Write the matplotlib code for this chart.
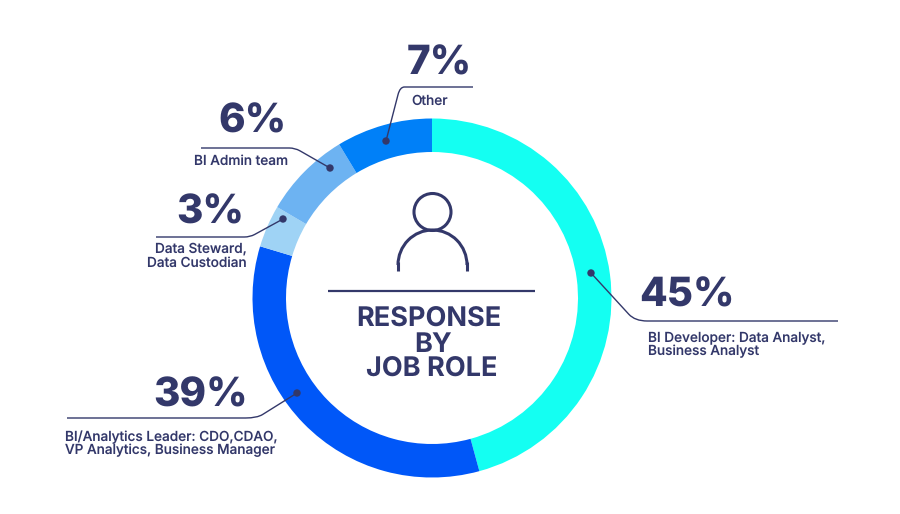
import matplotlib
matplotlib.use('Agg')
import matplotlib.pyplot as plt
from matplotlib.path import Path
from matplotlib.patches import PathPatch, Circle, Arc

# slice sizes as drawn in the picture (they differ a bit from the printed labels)
arc_shares = [45.75, 33.9, 3.8, 7.9, 8.65]
arc_colors = ['#14FFF2', '#0057F8', '#9FD3F5', '#6DB3F2', '#0080F8']
percent_labels = ['45%', '39%', '3%', '6%', '7%']
role_labels = ['BI Developer: Data Analyst,\nBusiness Analyst',
               'BI/Analytics Leader: CDO,CDAO,\nVP Analytics, Business Manager',
               'Data Steward,\nData Custodian',
               'BI Admin team',
               'Other']
title_lines = ['RESPONSE', 'BY', 'JOB ROLE']

dark = '#33386A'
plt.rcParams['font.family'] = ['Inter', 'DejaVu Sans']
plt.rcParams['text.hinting'] = 'no_hinting'

fig = plt.figure(figsize=(9, 5.14), dpi=100, facecolor='white')
ax = fig.add_axes([0, 0, 1, 1])

# y is flipped below, so counterclock here comes out clockwise on screen
ax.pie(arc_shares, colors=arc_colors, center=(432, 298), radius=179.5,
       startangle=270, counterclock=True,
       wedgeprops={'width': 33.5, 'linewidth': 0})

ax.set_xlim(0, 900)
ax.set_ylim(514, 0)
ax.set_aspect('equal')
ax.axis('off')

# leader lines: dot, corner, far end
leaders = [((591, 273), (635, 321), (838, 321)),
           ((297, 393), (257, 418), (67, 418)),
           ((283, 219), (250, 237), (156, 237)),
           ((330, 168), (295, 148), (201, 148)),
           ((386, 141), (400, 87), (473, 87))]
for dot, corner, end in leaders:
    # small rounded corner
    t = 0.14
    a = (corner[0] + (dot[0] - corner[0]) * t, corner[1] + (dot[1] - corner[1]) * t)
    b = (corner[0] + (end[0] - corner[0]) * 0.06, corner[1])
    path = Path([dot, a, corner, b, end],
                [Path.MOVETO, Path.LINETO, Path.CURVE3, Path.CURVE3, Path.LINETO])
    ax.add_patch(PathPatch(path, fill=False, edgecolor=dark, linewidth=1.0))
    ax.add_patch(Circle(dot, 3.7, color=dark, linewidth=0, zorder=5))

# big percentages
pct_pos = [(686.5, 307), (200.5, 407), (210.5, 224), (252.5, 133), (439.5, 75)]
for s, (x, y) in zip(percent_labels, pct_pos):
    ax.text(x, y, s, fontsize=29, fontweight='heavy', color=dark, ha='center', va='baseline')

# small role labels
role_pos = [(648, 342, 'left'), (65, 441, 'left'), (247, 253, 'right'),
            (194, 165, 'left'), (411, 105, 'left')]
for s, (x, y, ha) in zip(role_labels, role_pos):
    for i, line in enumerate(s.split('\n')):
        ax.text(x, y + i * 13.5, line, fontsize=9.8, fontweight='medium', color=dark,
                ha=ha, va='baseline')

# centre block
ax.plot([328, 535], [291, 291], color=dark, linewidth=1.6, solid_capstyle='butt')
for line, x, y in zip(title_lines, [429, 433, 432], [327, 352, 377]):
    ax.text(x, y, line, fontsize=19.5, fontweight='bold', color=dark,
            ha='center', va='baseline')

# person icon
ax.add_patch(Circle((432.5, 212), 18.5, fill=False, edgecolor=dark, linewidth=2.2))
ax.add_patch(Arc((432.5, 265), 69, 70, theta1=180, theta2=360, edgecolor=dark, linewidth=2.2))
ax.plot([398, 398], [262, 271], color=dark, linewidth=2.2, solid_capstyle='butt')
ax.plot([467, 467], [262, 271], color=dark, linewidth=2.2, solid_capstyle='butt')

fig.savefig('out.png', dpi=100)
